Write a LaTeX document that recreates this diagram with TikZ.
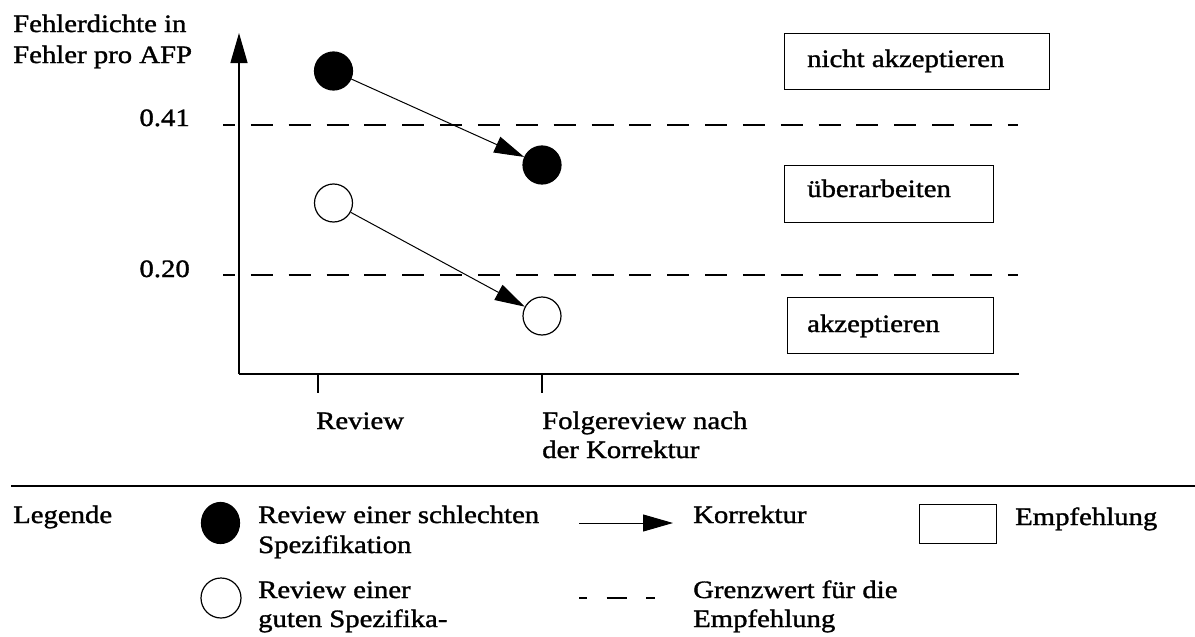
\documentclass[tikz,border=0pt]{standalone}
\usepackage{fontspec}
\setmainfont[FakeStretch=1.15,FakeBold=1.3]{Liberation Serif}
\usetikzlibrary{arrows.meta,shapes.geometric}
\begin{document}
\begin{tikzpicture}[x=1pt,y=-1pt,
  txt/.style={anchor=base west, inner sep=0pt, font=\fontsize{25}{29}\selectfont},
  txtr/.style={anchor=base east, inner sep=0pt, font=\fontsize{25}{29}\selectfont},
  axis/.style={line width=1.3pt},
  corr/.style={-{Triangle[length=30pt,width=17pt]}, line width=1pt},
  limit/.style={line width=1.3pt, dash pattern=on 22pt off 15.85pt, dash phase=10pt},
  fulldot/.style={circle, draw, fill=black, minimum size=38pt, inner sep=0pt, line width=1.2pt},
  opendot/.style={circle, draw, fill=white, minimum size=38pt, inner sep=0pt, line width=1.2pt},
  recbox/.style={rectangle, draw, anchor=north west, inner sep=0pt, line width=1.2pt}
]
% page frame
\path[use as bounding box, fill=white] (0,0) rectangle (1195,637);

% axes
\coordinate (origin) at (239,374);
\coordinate (ytop) at (239,33);
\coordinate (xend) at (1019,374);
\draw[axis, -{Triangle[length=30pt,width=17pt]}] (origin) -- (ytop);
\draw[axis] (origin) -- (xend);
\coordinate (t1) at (318,374);
\coordinate (t1b) at (318,393);
\coordinate (t2) at (542,374);
\coordinate (t2b) at (542,393);
\draw[line width=1.2pt] (t1) -- (t1b);
\draw[line width=1.2pt] (t2) -- (t2b);

% axis labels
\node[txt] (ylab1) at (13,32) {Fehlerdichte in};
\node[txt] (ylab2) at (13,63) {Fehler pro AFP};
\node[txt] (xlab1) at (316,429) {Review};
\node[txt] (xlab2) at (542,429) {Folgereview nach};
\node[txt] (xlab3) at (542,458) {der Korrektur};

% limit values
\node[txtr] (v41) at (190,126) {0.41};
\node[txtr] (v20) at (190,277) {0.20};
\coordinate (l41a) at (223,125);
\coordinate (l41b) at (1018,125);
\coordinate (l20a) at (223,275);
\coordinate (l20b) at (1018,275);
\draw[limit] (l41a) -- (l41b);
\draw[limit] (l20a) -- (l20b);

% reviews and corrections
\node[fulldot] (bad1) at (333.5,71) {};
\node[fulldot] (bad2) at (542,165) {};
\node[opendot] (good1) at (333.5,203) {};
\node[opendot] (good2) at (542,316) {};
\draw[corr] (bad1) -- (bad2);
\draw[corr] (good1) -- (good2);

% recommendations
\node[recbox, minimum width=265pt, minimum height=56pt] (recA) at (784,33) {};
\node[txt] (recAt) at (807,67) {nicht akzeptieren};
\node[recbox, minimum width=209pt, minimum height=57pt] (recB) at (783.5,165) {};
\node[txt] (recBt) at (807,197) {überarbeiten};
\node[recbox, minimum width=205.5pt, minimum height=56pt] (recC) at (787,297) {};
\node[txt] (recCt) at (807,332) {akzeptieren};

% legend
\coordinate (sepL) at (11,486);
\coordinate (sepR) at (1195,486);
\draw[line width=1.3pt] (sepL) -- (sepR);
\node[txt] (leg) at (13,523) {Legende};

\node[ellipse, draw, fill=black, minimum width=38pt, minimum height=41pt, inner sep=0pt, line width=1.2pt] (legbad) at (220.5,523) {};
\node[txt] (legbad1) at (258,523) {Review einer schlechten};
\node[txt] (legbad2) at (258,553) {Spezifikation};
\node[opendot, minimum size=40pt] (leggood) at (221,598) {};
\node[txt] (leggood1) at (258,598) {Review einer};
\node[txt] (leggood2) at (258,627) {guten Spezifika-};

\coordinate (legArrA) at (579,523);
\coordinate (legArrB) at (673,523);
\draw[corr] (legArrA) -- (legArrB);
\node[txt] (legcorr) at (693,523) {Korrektur};

\coordinate (legDashA) at (579,598);
\coordinate (legDashB) at (655,598);
\draw[line width=1.3pt, dash pattern=on 20pt off 19.5pt, dash phase=12pt] (legDashA) -- (legDashB);
\node[txt] (leglim1) at (693,598) {Grenzwert für die};
\node[txt] (leglim2) at (693,627) {Empfehlung};

\node[recbox, minimum width=77pt, minimum height=39pt] (legbox) at (919,504) {};
\node[txt] (legrec) at (1015,525) {Empfehlung};
\end{tikzpicture}
\end{document}
